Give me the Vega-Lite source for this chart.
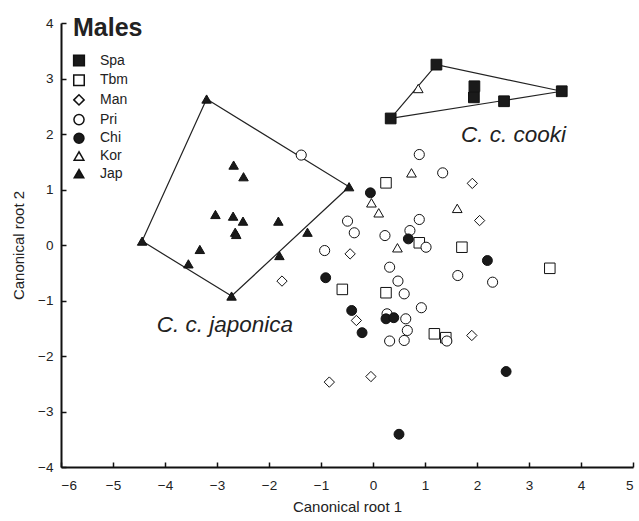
{
  "$schema": "https://vega.github.io/schema/vega-lite/v6.json",
  "width": 572,
  "height": 444,
  "autosize": {"type": "none"},
  "padding": {"left": 61, "top": 23, "right": 6, "bottom": 54},
  "config": {
    "view": {"stroke": null},
    "font": "Liberation Sans",
    "axis": {
      "grid": false,
      "domainColor": "#111",
      "domainWidth": 2,
      "tickColor": "#111",
      "tickWidth": 1.5,
      "labelFontSize": 13.5,
      "labelColor": "#222",
      "titleFontSize": 15,
      "titleFontWeight": "normal",
      "titleColor": "#222"
    }
  },
  "resolve": {"axis": {"x": "independent", "y": "independent"}},
  "datasets": {
    "pts": [
      {"g": "Spa", "x": 0.34, "y": 2.28}, {"g": "Spa", "x": 1.22, "y": 3.25}, {"g": "Spa", "x": 1.95, "y": 2.86},
      {"g": "Spa", "x": 1.94, "y": 2.66}, {"g": "Spa", "x": 2.52, "y": 2.59}, {"g": "Spa", "x": 3.63, "y": 2.77},
      {"g": "Tbm", "x": 0.25, "y": 1.12}, {"g": "Tbm", "x": 0.89, "y": 0.04}, {"g": "Tbm", "x": 1.71, "y": -0.04},
      {"g": "Tbm", "x": -0.59, "y": -0.8}, {"g": "Tbm", "x": 0.25, "y": -0.86}, {"g": "Tbm", "x": 1.18, "y": -1.6},
      {"g": "Tbm", "x": 1.4, "y": -1.67}, {"g": "Tbm", "x": 3.4, "y": -0.42},
      {"g": "Man", "x": 1.91, "y": 1.11}, {"g": "Man", "x": 2.05, "y": 0.44}, {"g": "Man", "x": -0.44, "y": -0.16},
      {"g": "Man", "x": -1.75, "y": -0.65}, {"g": "Man", "x": -0.32, "y": -1.36}, {"g": "Man", "x": 1.9, "y": -1.63},
      {"g": "Man", "x": -0.84, "y": -2.47}, {"g": "Man", "x": -0.04, "y": -2.37},
      {"g": "Pri", "x": -1.38, "y": 1.62}, {"g": "Pri", "x": 0.89, "y": 1.63}, {"g": "Pri", "x": 1.34, "y": 1.3},
      {"g": "Pri", "x": -0.49, "y": 0.43}, {"g": "Pri", "x": -0.36, "y": 0.22}, {"g": "Pri", "x": 0.89, "y": 0.46},
      {"g": "Pri", "x": 0.71, "y": 0.26}, {"g": "Pri", "x": 0.23, "y": 0.17}, {"g": "Pri", "x": 1.02, "y": -0.04},
      {"g": "Pri", "x": -0.93, "y": -0.1}, {"g": "Pri", "x": 0.32, "y": -0.4}, {"g": "Pri", "x": 0.48, "y": -0.65},
      {"g": "Pri", "x": 1.63, "y": -0.55}, {"g": "Pri", "x": 2.3, "y": -0.67}, {"g": "Pri", "x": 0.6, "y": -0.88},
      {"g": "Pri", "x": 0.93, "y": -1.13}, {"g": "Pri", "x": 0.27, "y": -1.24}, {"g": "Pri", "x": 0.63, "y": -1.33},
      {"g": "Pri", "x": 0.66, "y": -1.54}, {"g": "Pri", "x": 0.6, "y": -1.72}, {"g": "Pri", "x": 0.32, "y": -1.73},
      {"g": "Pri", "x": 1.42, "y": -1.73},
      {"g": "Chi", "x": -0.05, "y": 0.94}, {"g": "Chi", "x": 0.68, "y": 0.11}, {"g": "Chi", "x": 2.2, "y": -0.28},
      {"g": "Chi", "x": -0.91, "y": -0.59}, {"g": "Chi", "x": -0.41, "y": -1.18}, {"g": "Chi", "x": -0.21, "y": -1.58},
      {"g": "Chi", "x": 0.25, "y": -1.33}, {"g": "Chi", "x": 0.4, "y": -1.31}, {"g": "Chi", "x": 0.5, "y": -3.41},
      {"g": "Chi", "x": 2.56, "y": -2.28},
      {"g": "Kor", "x": 0.87, "y": 2.82}, {"g": "Kor", "x": 0.74, "y": 1.3}, {"g": "Kor", "x": -0.03, "y": 0.76},
      {"g": "Kor", "x": 0.11, "y": 0.58}, {"g": "Kor", "x": 1.62, "y": 0.66}, {"g": "Kor", "x": 0.47, "y": -0.05},
      {"g": "Jap", "x": -3.2, "y": 2.63}, {"g": "Jap", "x": -0.46, "y": 1.05}, {"g": "Jap", "x": -4.44, "y": 0.07},
      {"g": "Jap", "x": -2.72, "y": -0.92}, {"g": "Jap", "x": -1.26, "y": 0.23}, {"g": "Jap", "x": -1.8, "y": -0.19},
      {"g": "Jap", "x": -3.55, "y": -0.34}, {"g": "Jap", "x": -3.33, "y": -0.08}, {"g": "Jap", "x": -3.03, "y": 0.55},
      {"g": "Jap", "x": -2.69, "y": 0.52}, {"g": "Jap", "x": -2.5, "y": 0.43}, {"g": "Jap", "x": -2.65, "y": 0.23},
      {"g": "Jap", "x": -2.63, "y": 0.19}, {"g": "Jap", "x": -1.82, "y": 0.43}, {"g": "Jap", "x": -2.68, "y": 1.44},
      {"g": "Jap", "x": -2.49, "y": 1.23}
    ],
    "hulls": [
      {"h": "jap", "o": 1, "x": -3.2, "y": 2.63}, {"h": "jap", "o": 2, "x": -0.46, "y": 1.05},
      {"h": "jap", "o": 3, "x": -2.72, "y": -0.92}, {"h": "jap", "o": 4, "x": -4.44, "y": 0.07},
      {"h": "jap", "o": 5, "x": -3.2, "y": 2.63},
      {"h": "cooki", "o": 1, "x": 0.34, "y": 2.28}, {"h": "cooki", "o": 2, "x": 1.22, "y": 3.25},
      {"h": "cooki", "o": 3, "x": 3.63, "y": 2.77}, {"h": "cooki", "o": 4, "x": 0.34, "y": 2.28}
    ],
    "notes": [
      {"t": "C. c. japonica", "x": -2.85, "y": -1.45},
      {"t": "C. c. cooki", "x": 2.7, "y": 1.99}
    ],
    "heading": [{"t": "Males", "x": -5.77, "y": 3.76}]
  },
  "layer": [
    {
      "data": {"name": "hulls"},
      "mark": {"type": "line", "color": "#222", "strokeWidth": 1.2},
      "encoding": {
        "x": {"field": "x", "type": "quantitative", "title": "Canonical root 1",
          "scale": {"domain": [-6, 5], "nice": false, "zero": false},
          "axis": {"orient": "bottom", "values": [-6, -5, -4, -3, -2, -1, 0, 1, 2, 3, 4, 5], "ticks": false, "labelPadding": 11, "titlePadding": 8}},
        "y": {"field": "y", "type": "quantitative", "title": "Canonical root 2",
          "scale": {"domain": [-4, 4], "nice": false, "zero": false},
          "axis": {"orient": "left", "values": [-4, -3, -2, -1, 0, 1, 2, 3, 4], "ticks": false, "labelPadding": 8, "titlePadding": 11}},
        "detail": {"field": "h"},
        "order": {"field": "o", "type": "quantitative"}
      }
    },
    {
      "data": {"name": "pts"},
      "mark": {"type": "point", "filled": true, "stroke": "#111", "strokeWidth": 1, "opacity": 1},
      "encoding": {
        "x": {"field": "x", "type": "quantitative",
          "axis": {"orient": "bottom", "values": [-6, -5, -4, -3, -2, -1, 0, 1, 2, 3, 4, 5], "offset": -5, "tickSize": 5, "domain": false, "labels": false, "title": null}},
        "y": {"field": "y", "type": "quantitative",
          "axis": {"orient": "left", "values": [-4, -3, -2, -1, 0, 1, 2, 3, 4], "offset": -5, "tickSize": 5, "domain": false, "labels": false, "title": null}},
        "shape": {"field": "g", "type": "nominal",
          "scale": {"domain": ["Spa", "Tbm", "Man", "Pri", "Chi", "Kor", "Jap"],
            "range": ["square", "square", "diamond", "circle", "circle", "triangle-up", "triangle-up"]},
          "legend": {"orient": "none", "legendX": 11, "legendY": 30.5, "title": null, "padding": 0,
            "labelFontSize": 14, "labelColor": "#222", "labelOffset": 14, "rowPadding": 1.7,
            "encode": {"symbols": {"update": {"stroke": {"value": "#111"}, "strokeWidth": {"value": 1}}}}}},
        "fill": {"field": "g", "type": "nominal",
          "scale": {"domain": ["Spa", "Tbm", "Man", "Pri", "Chi", "Kor", "Jap"],
            "range": ["#1a1a1a", "white", "white", "white", "#1a1a1a", "white", "#1a1a1a"]},
          "legend": {"orient": "none", "legendX": 11, "legendY": 30.5, "title": null, "padding": 0,
            "labelFontSize": 14, "labelColor": "#222", "labelOffset": 14, "rowPadding": 1.7,
            "encode": {"symbols": {"update": {"stroke": {"value": "#111"}, "strokeWidth": {"value": 1}}}}}},
        "size": {"field": "g", "type": "nominal",
          "scale": {"domain": ["Spa", "Tbm", "Man", "Pri", "Chi", "Kor", "Jap"],
            "range": [115, 90, 65, 80, 100, 85, 95]},
          "legend": {"orient": "none", "legendX": 11, "legendY": 30.5, "title": null, "padding": 0,
            "labelFontSize": 14, "labelColor": "#222", "labelOffset": 14, "rowPadding": 1.7,
            "encode": {"symbols": {"update": {"stroke": {"value": "#111"}, "strokeWidth": {"value": 1}}}}}}
      }
    },
    {
      "data": {"name": "notes"},
      "mark": {"type": "text", "fontSize": 22.5, "fontStyle": "italic", "color": "#222", "align": "center", "baseline": "middle"},
      "encoding": {
        "x": {"field": "x", "type": "quantitative", "axis": null},
        "y": {"field": "y", "type": "quantitative", "axis": null},
        "text": {"field": "t"}
      }
    },
    {
      "data": {"name": "heading"},
      "mark": {"type": "text", "fontSize": 25, "fontWeight": "bold", "color": "#222", "align": "left", "baseline": "alphabetic"},
      "encoding": {
        "x": {"field": "x", "type": "quantitative", "axis": null},
        "y": {"field": "y", "type": "quantitative", "axis": null},
        "text": {"field": "t"}
      }
    }
  ]
}
